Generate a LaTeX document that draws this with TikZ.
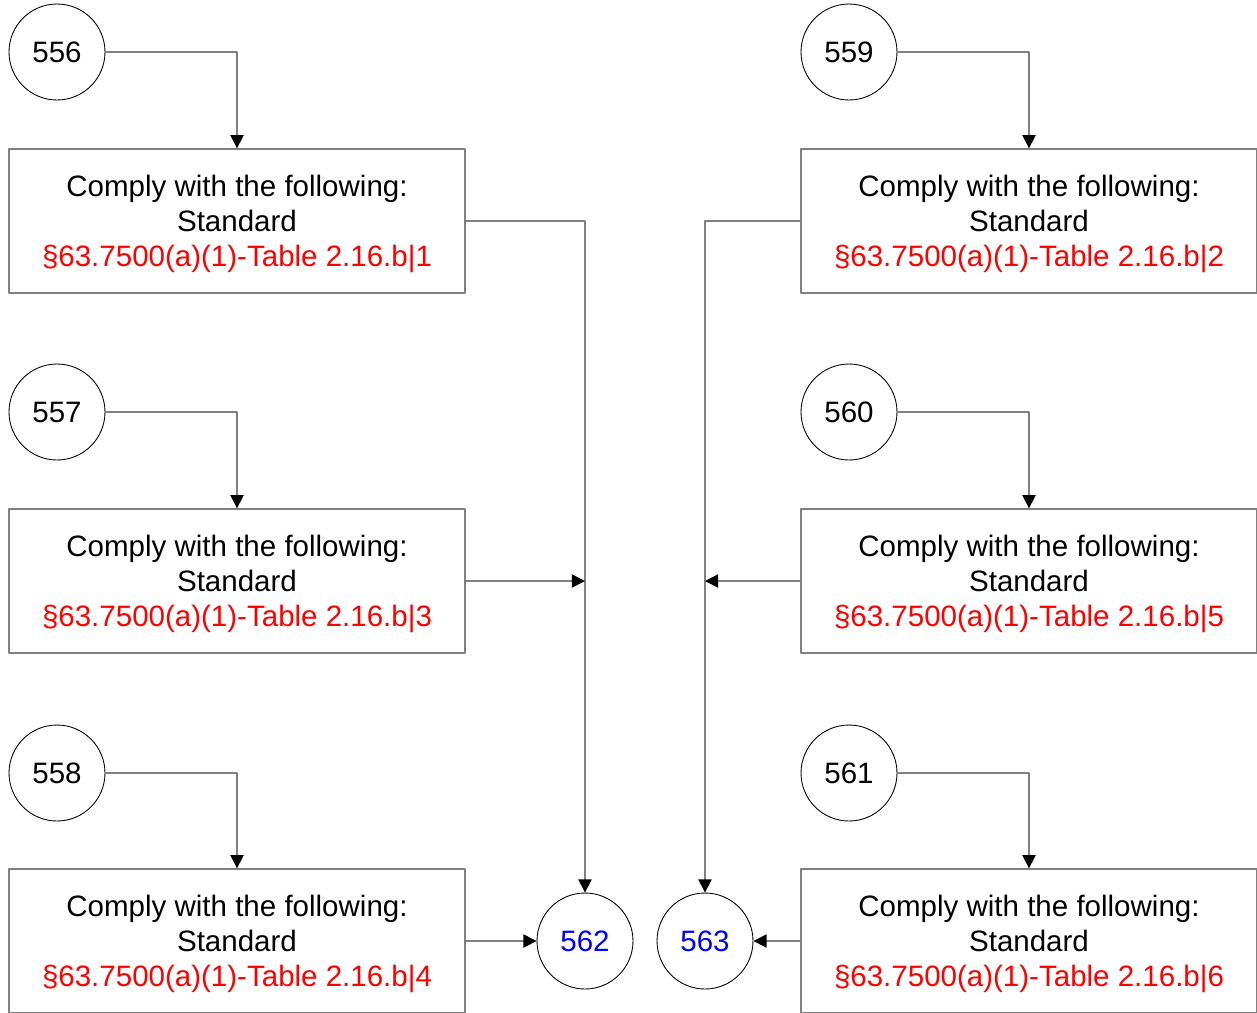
\documentclass[tikz,border=0pt]{standalone}
\usepackage{fontspec}
\setmainfont{Liberation Sans}
\usetikzlibrary{arrows.meta}
\begin{document}
\begin{tikzpicture}[x=0.02cm,y=-0.02cm,line join=round,
	every node/.style={font=\fontsize{16.8}{19.9}\selectfont},
	stepcircle/.style={draw=black,line width=0.5pt,circle,minimum size=1.92cm,inner sep=0pt},
	rulebox/.style={draw=black!50,line width=0.8pt,rectangle,minimum width=9.12cm,minimum height=2.88cm,align=center,inner sep=0pt,text depth=-2pt},
	flow/.style={draw=black!50,line width=0.8pt,-{Triangle[length=7.5pt,width=7.5pt,fill=black,color=black]}}]
	\useasboundingbox (0,0) rectangle (1257,1012);
	% left column
	\node[stepcircle] (c556) at (57,52) {556};
	\node[stepcircle] (c557) at (57,412) {557};
	\node[stepcircle] (c558) at (57,773) {558};
	\node[rulebox] (b1) at (237,221) {Comply with the following:\\Standard\\\textcolor{red}{§63.7500(a)(1)-Table 2.16.b|1}};
	\node[rulebox] (b3) at (237,581) {Comply with the following:\\Standard\\\textcolor{red}{§63.7500(a)(1)-Table 2.16.b|3}};
	\node[rulebox] (b4) at (237,941) {Comply with the following:\\Standard\\\textcolor{red}{§63.7500(a)(1)-Table 2.16.b|4}};
	% right column
	\node[stepcircle] (c559) at (849,52) {559};
	\node[stepcircle] (c560) at (849,412) {560};
	\node[stepcircle] (c561) at (849,773) {561};
	\node[rulebox] (b2) at (1029,221) {Comply with the following:\\Standard\\\textcolor{red}{§63.7500(a)(1)-Table 2.16.b|2}};
	\node[rulebox] (b5) at (1029,581) {Comply with the following:\\Standard\\\textcolor{red}{§63.7500(a)(1)-Table 2.16.b|5}};
	\node[rulebox] (b6) at (1029,941) {Comply with the following:\\Standard\\\textcolor{red}{§63.7500(a)(1)-Table 2.16.b|6}};
	% targets
	\node[stepcircle,text=blue] (c562) at (585,941) {562};
	\node[stepcircle,text=blue] (c563) at (705,941) {563};
	% connectors
	\draw[flow] (c556.east) -| (b1.north);
	\draw[flow] (c557.east) -| (b3.north);
	\draw[flow] (c558.east) -| (b4.north);
	\draw[flow] (c559.east) -| (b2.north);
	\draw[flow] (c560.east) -| (b5.north);
	\draw[flow] (c561.east) -| (b6.north);
	\draw[flow] (b1.east) -| (c562.north);
	\draw[flow] (b3.east) -- (b3.east -| c562.north);
	\draw[flow] (b4.east) -- (c562.west);
	\draw[flow] (b2.west) -| (c563.north);
	\draw[flow] (b5.west) -- (b5.west -| c563.north);
	\draw[flow] (b6.west) -- (c563.east);
\end{tikzpicture}
\end{document}
